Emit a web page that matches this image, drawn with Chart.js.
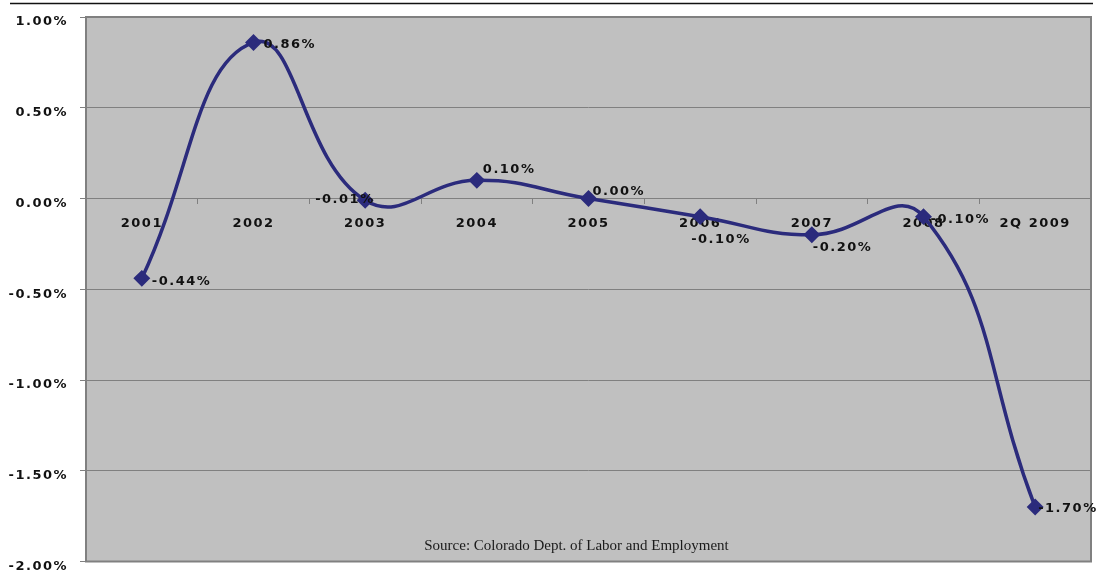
<!DOCTYPE html>
<html>
<head>
<meta charset="utf-8">
<script src="https://cdn.jsdelivr.net/npm/chart.js@4/dist/chart.umd.min.js"></script>
<style>
  html, body { margin: 0; padding: 0; background: #fff; }
  #wrap { width: 1111px; height: 571px; }
</style>
</head>
<body>
<div id="wrap"><canvas id="chart"></canvas></div>
<script>
// job growth by year (percent)
const years = ['2001', '2002', '2003', '2004', '2005', '2006', '2007', '2008', '2Q 2009'];
const growth = [-0.44, 0.86, -0.01, 0.10, 0.00, -0.10, -0.20, -0.10, -1.70];
const yTicks = [-2.0, -1.5, -1.0, -0.5, 0.0, 0.5, 1.0];

// where each value label sits relative to its marker (dragged by hand in the original)
const labelDx = [10, 10, -50, 6, 4, -9, 1, 7, 3];
const labelDy = [3, 2, -1, -11, -7, 23, 13, 3, 2];

const sourceText = 'Source: Colorado Dept. of Labor and Employment';
const navy = '#2B2B7C';

const plotDeco = {
    id: 'plotDeco',
    beforeDraw(chart) {
        const { ctx, chartArea: a } = chart;
        ctx.save();
        ctx.fillStyle = '#C0C0C0';
        ctx.fillRect(a.left, a.top, a.right - a.left, a.bottom - a.top);
        // rule across the top of the picture
        ctx.strokeStyle = '#111';
        ctx.lineWidth = 1.5;
        ctx.beginPath();
        ctx.moveTo(10, 3.5);
        ctx.lineTo(1093, 3.5);
        ctx.stroke();
        ctx.restore();
        ctx.letterSpacing = '1.5px';
    },
    beforeDatasetsDraw(chart) {
        const { ctx, chartArea: a } = chart;
        ctx.save();
        ctx.strokeStyle = '#808080';
        ctx.lineWidth = 2;
        ctx.strokeRect(a.left, a.top, a.right - a.left, a.bottom - a.top);
        ctx.letterSpacing = '0px';
        ctx.fillStyle = '#1a1a1a';
        ctx.font = '15px "Liberation Serif", serif';
        ctx.textAlign = 'center';
        ctx.textBaseline = 'middle';
        ctx.fillText(sourceText, (a.left + a.right) / 2 - 12, a.bottom - 15);
        ctx.restore();
    },
    afterDatasetsDraw(chart) {
        const { ctx } = chart;
        const pts = chart.getDatasetMeta(0).data;
        ctx.save();
        ctx.letterSpacing = '1.5px';
        ctx.fillStyle = '#111';
        ctx.font = 'bold 13px "DejaVu Sans", sans-serif';
        ctx.textAlign = 'left';
        ctx.textBaseline = 'middle';
        pts.forEach((p, i) => {
            ctx.fillText(growth[i].toFixed(2) + '%', p.x + labelDx[i], p.y + labelDy[i]);
        });
        ctx.restore();
    }
};

const tickFont = { family: '"DejaVu Sans", sans-serif', size: 13, weight: 'bold' };

new Chart(document.getElementById('chart'), {
    type: 'line',
    data: {
        labels: years,
        datasets: [{
            data: growth,
            borderColor: navy,
            backgroundColor: navy,
            borderWidth: 3.5,
            tension: 0.45,
            pointStyle: 'rectRot',
            pointRadius: 6,
            pointBackgroundColor: navy,
            pointBorderColor: navy,
            fill: false
        }]
    },
    options: {
        responsive: true,
        maintainAspectRatio: false,
        animation: false,
        layout: { padding: { left: 0, right: 20, top: 17, bottom: 6 } },
        plugins: {
            legend: { display: false },
            tooltip: { enabled: false }
        },
        scales: {
            x: {
                position: { y: 0 },
                offset: true,
                grid: {
                    offset: true,
                    drawOnChartArea: false,
                    tickLength: 5,
                    tickColor: '#808080'
                },
                border: { color: '#808080', width: 1 },
                ticks: { color: '#111', font: tickFont, padding: 12, maxRotation: 0, autoSkip: false }
            },
            y: {
                min: -2,
                max: 1,
                afterBuildTicks(scale) {
                    scale.ticks = yTicks.map(v => ({ value: v }));
                },
                afterFit(scale) {
                    scale.width = 86;
                    // let the end labels hang outside the plot, as in the original
                    scale.paddingTop = 0;
                    scale.paddingBottom = 0;
                },
                grid: { color: '#808080', lineWidth: 1, tickLength: 6, tickColor: '#808080' },
                border: { display: false },
                ticks: {
                    color: '#111',
                    font: tickFont,
                    padding: 12,
                    labelOffset: 5,
                    callback: v => v.toFixed(2) + '%'
                }
            }
        }
    },
    plugins: [plotDeco]
});
</script>
</body>
</html>
